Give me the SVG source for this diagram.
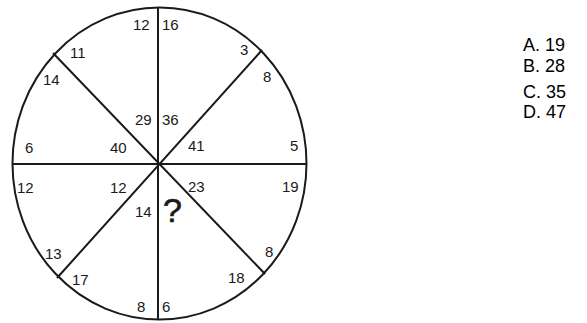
<svg xmlns="http://www.w3.org/2000/svg" width="587" height="323" viewBox="0 0 587 323">
<style>
.ln{stroke:#1a1a1a;stroke-width:2;fill:none}
.n{font-family:"Liberation Sans",Arial,sans-serif;font-size:15px;fill:#1a1a1a}
.q{font-family:"Liberation Sans",Arial,sans-serif;font-size:34px;fill:#1a1a1a;stroke:#1a1a1a;stroke-width:0.6}
.a{font-family:"Liberation Sans",Arial,sans-serif;font-size:18px;fill:#000}
</style>
<rect width="587" height="323" fill="#fff"/>
<g id="wheel">
<ellipse class="ln" cx="159.5" cy="163.5" rx="147" ry="156"/>
</g>
<g id="connectors">
<line class="ln" x1="158" y1="8" x2="158" y2="319"/>
<line class="ln" x1="12" y1="164" x2="307" y2="164"/>
<line class="ln" x1="53" y1="53" x2="265" y2="274"/>
<line class="ln" x1="262" y1="50" x2="57" y2="278"/>
</g>
<g id="sector-top-left">
<text class="n" x="133" y="30">12</text>
<text class="n" x="70" y="58">11</text>
<text class="n" x="43" y="85">14</text>
<text class="n" x="135" y="125">29</text>
<text class="n" x="25" y="153">6</text>
<text class="n" x="110" y="153">40</text>
</g>
<g id="sector-top-right">
<text class="n" x="162" y="30">16</text>
<text class="n" x="240" y="55">3</text>
<text class="n" x="263" y="82">8</text>
<text class="n" x="162" y="125">36</text>
<text class="n" x="188" y="151">41</text>
<text class="n" x="290" y="151">5</text>
</g>
<g id="sector-bottom-left">
<text class="n" x="17" y="193">12</text>
<text class="n" x="110" y="193">12</text>
<text class="n" x="135" y="217">14</text>
<text class="n" x="45" y="259">13</text>
<text class="n" x="72" y="285">17</text>
<text class="n" x="137" y="312">8</text>
</g>
<g id="sector-bottom-right">
<text class="n" x="188" y="192">23</text>
<text class="n" x="282" y="192">19</text>
<text class="q" x="163" y="222">?</text>
<text class="n" x="265" y="257">8</text>
<text class="n" x="228" y="283">18</text>
<text class="n" x="162" y="312">6</text>
</g>
<g id="options">
<text class="a" x="523" y="51">A. 19</text>
<text class="a" x="523" y="72">B. 28</text>
<text class="a" x="523" y="98">C. 35</text>
<text class="a" x="523" y="118">D. 47</text>
</g>
</svg>
